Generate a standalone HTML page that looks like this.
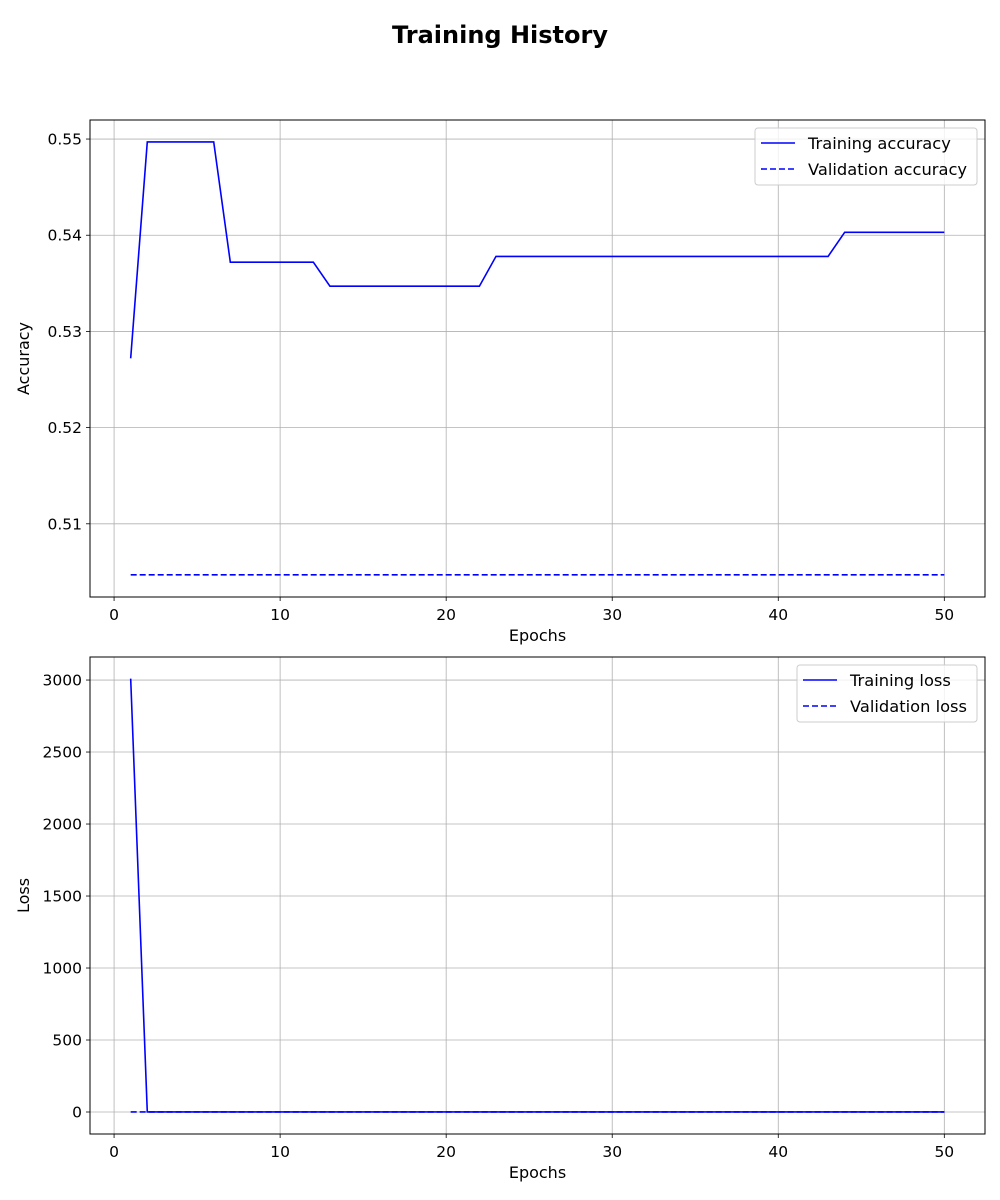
<!DOCTYPE html>
<html><head><meta charset="utf-8"><style>
body{margin:0;background:#fff}
svg{display:block;font-family:"DejaVu Sans","Liberation Sans",sans-serif}
</style></head><body>
<svg id="c" width="1000" height="1200">
<text x="500" y="43" text-anchor="middle" font-size="24" font-weight="bold">Training History</text>
</svg>
<script>
const epochs = Array.from({length:50},(_,i)=>i+1);
const trainAcc = [0.5272,0.5497,0.5497,0.5497,0.5497,0.5497,0.5372,0.5372,0.5372,0.5372,0.5372,0.5372,
 0.5347,0.5347,0.5347,0.5347,0.5347,0.5347,0.5347,0.5347,0.5347,0.5347,
 0.5378,0.5378,0.5378,0.5378,0.5378,0.5378,0.5378,0.5378,0.5378,0.5378,0.5378,0.5378,0.5378,0.5378,0.5378,0.5378,0.5378,0.5378,0.5378,0.5378,0.5378,
 0.5403,0.5403,0.5403,0.5403,0.5403,0.5403,0.5403];
const valAcc = Array(50).fill(0.5047);
const trainLoss = [3010].concat(Array(49).fill(0.7));
const valLoss = Array(50).fill(0.7);
const xTicks = [0,10,20,30,40,50];
const accTicks = [0.51,0.52,0.53,0.54,0.55];
const lossTicks = [0,500,1000,1500,2000,2500,3000];

const svg=document.getElementById('c');
const NS='http://www.w3.org/2000/svg';
function el(t,a,p){const e=document.createElementNS(NS,t);for(const k in a)e.setAttribute(k,a[k]);(p||svg).appendChild(e);return e;}

function panel(name,top,bottom,ymin,ymax,yTicks,yFmt,ylabel,series,legend,legX,legW){
  const L=90,R=985,xmin=-1.45,xmax=52.45;
  const sx=v=>L+(v-xmin)/(xmax-xmin)*(R-L);
  const sy=v=>bottom-(v-ymin)/(ymax-ymin)*(bottom-top);
  const g=el('g',{});
  
  
  xTicks.forEach(t=>{
    el('line',{x1:sx(t),x2:sx(t),y1:top,y2:bottom,stroke:'#b0b0b0','stroke-width':0.8},g);
    el('line',{x1:sx(t),x2:sx(t),y1:bottom,y2:bottom+4,stroke:'#000','stroke-width':0.8},g);
    const tx=el('text',{x:sx(t),y:bottom+23,'text-anchor':'middle','font-size':15.5},g);tx.textContent=t;
    
    
  });
  yTicks.forEach(t=>{
    el('line',{x1:L,x2:R,y1:sy(t),y2:sy(t),stroke:'#b0b0b0','stroke-width':0.8},g);
    el('line',{x1:L-4,x2:L,y1:sy(t),y2:sy(t),stroke:'#000','stroke-width':0.8},g);
    const tx=el('text',{x:L-8,y:sy(t)+5.5,'text-anchor':'end','font-size':15.5},g);tx.textContent=yFmt(t);
    
    
  });
  series.forEach(s=>{
    const p=el('polyline',{points:epochs.map((e,i)=>sx(e)+','+sy(s.v[i])).join(' '),fill:'none',stroke:'#0000ff','stroke-width':1.6,'stroke-dasharray':s.dash||'none'},g);
    
    
  });
  el('rect',{x:L,y:top,width:R-L,height:bottom-top,fill:'none',stroke:'#000','stroke-width':1},g);
  const xl=el('text',{x:(L+R)/2,y:bottom+44,'text-anchor':'middle','font-size':16},g);xl.textContent='Epochs';
  
  
  const yl=el('text',{x:0,y:0,'text-anchor':'middle','font-size':16,transform:`translate(${L-61} ${(top+bottom)/2}) rotate(-90)`},g);yl.textContent=ylabel;
  
  
  const lg=el('g',{},g);
  
  
  el('rect',{x:legX,y:top+8,width:legW,height:57,rx:3,fill:'#fff','fill-opacity':0.8,stroke:'#ccc'},lg);
  legend.forEach((t,i)=>{
    const y=top+23+i*26;
    el('line',{x1:legX+6,x2:legX+40,y1:y,y2:y,stroke:'#0000ff','stroke-width':1.6,'stroke-dasharray':i?'6,3':'none'},lg);
    const tx=el('text',{x:legX+53,y:y+6,'font-size':16.3},lg);tx.textContent=t;
    
    
  });
}
panel('accuracy',120,597,0.50239,0.55198,accTicks,t=>t.toFixed(2),'Accuracy',
  [{name:'training-accuracy-line',v:trainAcc},{name:'validation-accuracy-line',v:valAcc,dash:'6,3'}],
  ['Training accuracy','Validation accuracy'],755,222);
panel('loss',657,1134,-152.8,3160,lossTicks,t=>t,'Loss',
  [{name:'validation-loss-line',v:valLoss,dash:'6,3'},{name:'training-loss-line',v:trainLoss}],
  ['Training loss','Validation loss'],797,180);
</script>
</body></html>
